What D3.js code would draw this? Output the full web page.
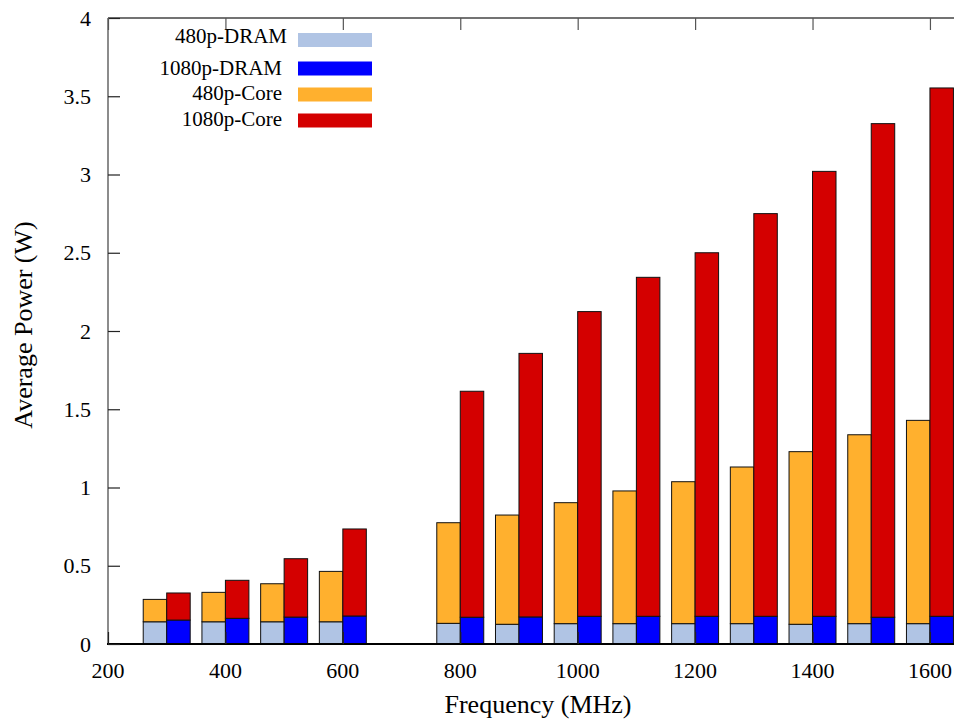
<!DOCTYPE html>
<html>
<head>
<meta charset="utf-8">
<script src="https://cdn.jsdelivr.net/npm/d3@7"></script>
<style>
  body { margin: 0; background: #fff; }
</style>
</head>
<body>
<div id="chart"></div>
<script>
// frequencies (MHz) of each bar pair
var freqs = [300, 400, 500, 600, 800, 900, 1000, 1100, 1200, 1300, 1400, 1500, 1600];

// stacked segments (W)
var dram480  = [0.142, 0.142, 0.142, 0.142, 0.132, 0.126, 0.130, 0.130, 0.130, 0.130, 0.126, 0.130, 0.130];
var core480  = [0.143, 0.188, 0.243, 0.322, 0.643, 0.698, 0.773, 0.848, 0.907, 1.001, 1.103, 1.207, 1.299];
var dram1080 = [0.153, 0.164, 0.172, 0.179, 0.171, 0.173, 0.177, 0.177, 0.177, 0.177, 0.177, 0.171, 0.177];
var core1080 = [0.173, 0.243, 0.373, 0.556, 1.444, 1.684, 1.947, 2.166, 2.323, 2.573, 2.843, 3.154, 3.376];

var xTicks = [200, 400, 600, 800, 1000, 1200, 1400, 1600];
var yTicks = [0, 0.5, 1, 1.5, 2, 2.5, 3, 3.5, 4];

var legendNames = ["480p-DRAM", "1080p-DRAM", "480p-Core", "1080p-Core"];
var colors = ["#b0c4e4", "#0000ff", "#ffb02e", "#d40000"];

var width = 954, height = 719;
var barW = 40; // MHz per bar
var serif = "'Liberation Serif', 'DejaVu Serif', serif";

var svg = d3.select("#chart")
  .append("svg")
    .attr("width", width)
    .attr("height", height)
    .attr("font-family", serif);

var x = d3.scaleLinear()
  .domain([200, 1650])
  .range([108, 959.3]);

var y = d3.scaleLinear()
  .domain([0, 4])
  .range([644, 18]);

// build the stacked rectangles
var rects = [];
freqs.forEach(function(f, i) {
  rects.push({x0: f - barW, x1: f, y0: 0, y1: dram480[i], c: colors[0]});
  rects.push({x0: f - barW, x1: f, y0: dram480[i], y1: dram480[i] + core480[i], c: colors[2]});
  rects.push({x0: f, x1: f + barW, y0: 0, y1: dram1080[i], c: colors[1]});
  rects.push({x0: f, x1: f + barW, y0: dram1080[i], y1: dram1080[i] + core1080[i], c: colors[3]});
});

svg.selectAll("rect.bar")
  .data(rects)
  .enter()
  .append("rect")
    .attr("class", "bar")
    .attr("x", function(d) { return x(d.x0); })
    .attr("width", function(d) { return x(d.x1) - x(d.x0); })
    .attr("y", function(d) { return y(d.y1); })
    .attr("height", function(d) { return y(d.y0) - y(d.y1); })
    .style("fill", function(d) { return d.c; })
    .attr("stroke", "#111")
    .attr("stroke-width", 1);

// frame
svg.append("line")
  .attr("x1", 108).attr("x2", width).attr("y1", 18).attr("y2", 18)
  .attr("stroke", "#444").attr("stroke-width", 1.5);
svg.append("line")
  .attr("x1", 108).attr("x2", 108).attr("y1", 18).attr("y2", 644)
  .attr("stroke", "#666").attr("stroke-width", 1.5);
svg.append("line")
  .attr("x1", 107).attr("x2", width).attr("y1", 644).attr("y2", 644)
  .attr("stroke", "#000").attr("stroke-width", 2);

// y axis (ticks inward)
var yAxis = svg.append("g")
  .attr("transform", "translate(108,0)")
  .call(d3.axisRight(y).tickValues(yTicks).tickSize(12).tickFormat(""));
yAxis.select(".domain").remove();
yAxis.selectAll(".tick line").attr("stroke", "#222").attr("stroke-width", 1.2);

svg.selectAll("text.ylab")
  .data(yTicks)
  .enter()
  .append("text")
    .attr("class", "ylab")
    .attr("x", 91)
    .attr("y", function(d) { return y(d); })
    .attr("dy", "0.35em")
    .attr("text-anchor", "end")
    .style("font-size", "22px")
    .text(function(d) { return d3.format("~g")(d); });

// x axis ticks inward at bottom and mirrored on top
var xAxisB = svg.append("g")
  .attr("transform", "translate(0,644)")
  .call(d3.axisTop(x).tickValues(xTicks).tickSize(12).tickFormat(""));
xAxisB.select(".domain").remove();
xAxisB.selectAll(".tick line").attr("stroke", "#222").attr("stroke-width", 1.2);

var xAxisT = svg.append("g")
  .attr("transform", "translate(0,18)")
  .call(d3.axisBottom(x).tickValues(xTicks).tickSize(12).tickFormat(""));
xAxisT.select(".domain").remove();
xAxisT.selectAll(".tick line").attr("stroke", "#555").attr("stroke-width", 1.2);

svg.selectAll("text.xlab")
  .data(xTicks)
  .enter()
  .append("text")
    .attr("class", "xlab")
    .attr("x", function(d) { return x(d); })
    .attr("y", 678)
    .attr("text-anchor", "middle")
    .style("font-size", "22px")
    .text(function(d) { return d; });

// axis titles
svg.append("text")
  .attr("x", 538)
  .attr("y", 713)
  .attr("text-anchor", "middle")
  .style("font-size", "26px")
  .text("Frequency (MHz)");

svg.append("text")
  .attr("transform", "translate(32,325)rotate(-90)")
  .attr("text-anchor", "middle")
  .style("font-size", "26px")
  .text("Average Power (W)");

// legend
var legendTextX = [287, 282, 282, 282];
var legendTextY = [43, 75, 100, 126];
var legendBoxY = [33, 61.5, 87.5, 113.5];

var legend = svg.selectAll("g.legend")
  .data(legendNames)
  .enter()
  .append("g")
    .attr("class", "legend");

legend.append("text")
  .attr("x", function(d, i) { return legendTextX[i]; })
  .attr("y", function(d, i) { return legendTextY[i]; })
  .attr("text-anchor", "end")
  .style("font-size", "21px")
  .text(function(d) { return d; });

legend.append("rect")
  .attr("x", 298)
  .attr("y", function(d, i) { return legendBoxY[i]; })
  .attr("width", 74)
  .attr("height", 14)
  .style("fill", function(d, i) { return colors[i]; });
</script>
</body>
</html>
